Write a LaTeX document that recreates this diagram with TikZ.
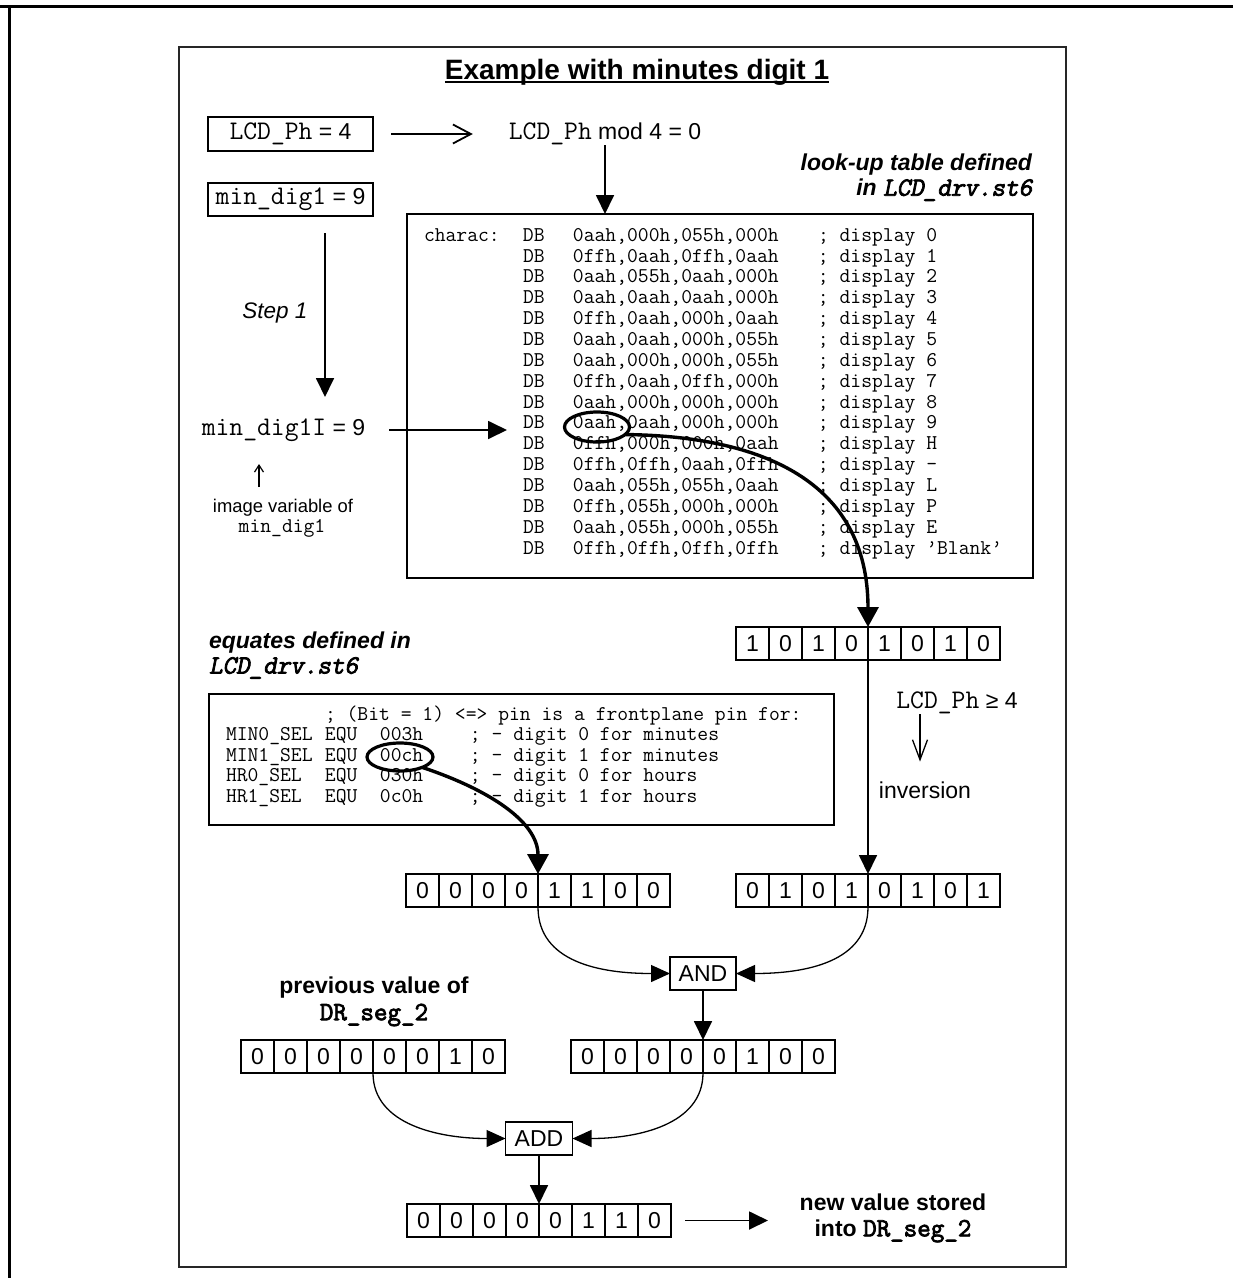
\documentclass[tikz,border=0pt]{standalone}
\usepackage{fontspec}
\setmainfont{Liberation Sans}
\setmonofont{Latin Modern Mono}[Scale=1.143]
\newfontfamily\monobf{Latin Modern Mono}[Scale=1.143, FakeBold=3]
\newfontfamily\monobfsl{Latin Modern Mono}[Scale=1.143, FakeBold=3, FakeSlant=0.2]
\usetikzlibrary{arrows.meta,shapes.geometric}
\newcommand{\fsz}[1]{\fontsize{#1}{#1}\selectfont}
\newcommand{\bigmono}{\fontsize{23.5}{23.5}\selectfont\ttfamily}
\newcommand{\bitrow}[4]{\foreach \b [count=\i] in {#4}{\node[bitcell] (#1-\i) at ({#2+(\i-0.5)*33},{#3+16.5}) {\b};}}
\begin{document}
\begin{tikzpicture}[x=1pt,y=-1pt,
  every node/.style={inner sep=0pt, outer sep=0pt},
  box/.style={draw, line width=1.5pt, minimum width=165pt, minimum height=34pt, font=\fsz{23}},
  bitcell/.style={draw, line width=1.2pt, minimum width=33pt, minimum height=33pt, font=\fsz{23}},
  opbox/.style={draw, line width=1.4pt, minimum width=66pt, minimum height=33pt, font=\fsz{23}},
  arr/.style={line width=1.8pt, -{Triangle[length=19pt,width=18pt]}},
  arrthin/.style={line width=1.3pt, -{Triangle[length=19pt,width=17pt]}},
  hlarr/.style={line width=3.4pt, -{Triangle[length=20pt,width=21pt]}},
  barb/.style={line width=1.8pt, -{Straight Barb[length=18pt,width=19pt]}},
  smallbarb/.style={line width=1.2pt, -{Straight Barb[length=7pt,width=9pt]}},
  invbarb/.style={line width=1.3pt, -{Straight Barb[length=20pt,width=15pt]}},
  circ/.style={draw, ellipse, line width=3.2pt},
  codeline/.style={anchor=west, font=\fsz{18.4}\ttfamily},
  lbl/.style={font=\fsz{23}\bfseries\itshape}
]
\useasboundingbox (0,0) rectangle (1233,1278);
% outer page frame
\draw[line width=3pt] (0,6) -- (1233,6);
\draw[line width=3pt] (9,6) -- (9,1278);
% inner frame
\draw[line width=2.2pt, black!85] (179,47) rectangle (1066,1267);

% title
\node[font=\fsz{28}\bfseries, anchor=base] (title) at (637,79) {Example with minutes digit 1};
\draw[line width=2pt] ([yshift=-3pt]title.base west) -- ([yshift=-3pt]title.base east);

% top left
\node[box] (lcd) at (290.5,134) {{\bigmono LCD\_Ph} = 4};
\node[box, minimum height=33pt] (md) at (290.5,199.5) {{\bigmono min\_dig1} = 9};
\node[font=\fsz{23}] (mod) at (605,134) {{\bigmono LCD\_Ph} mod 4 = 0};
\draw[barb, shorten <=18pt, shorten >=36pt] (lcd.east) -- (lcd.east -| mod.west);

\node[lbl, anchor=east] (lut1) at (1032,165) {look-up table defined};
\node[lbl, anchor=east] (lut2) at (1032,190) {in {\monobfsl\mdseries\upshape LCD\_drv.st6}};

% look-up table
\node[draw, line width=1.5pt, minimum width=626pt, minimum height=364pt] (tbl) at (720,396) {};
\draw[arr] (mod.south) -- (mod.south |- tbl.north);
\foreach \val/\dsp [count=\i] in {
  {0aah,000h,055h,000h}/0,
  {0ffh,0aah,0ffh,0aah}/1,
  {0aah,055h,0aah,000h}/2,
  {0aah,0aah,0aah,000h}/3,
  {0ffh,0aah,000h,0aah}/4,
  {0aah,0aah,000h,055h}/5,
  {0aah,000h,000h,055h}/6,
  {0ffh,0aah,0ffh,000h}/7,
  {0aah,000h,000h,000h}/8,
  {0aah,0aah,000h,000h}/9,
  {0ffh,000h,000h,0aah}/H,
  {0ffh,0ffh,0aah,0ffh}/-,
  {0aah,055h,055h,0aah}/L,
  {0ffh,055h,000h,000h}/P,
  {0aah,055h,000h,055h}/E,
  {0ffh,0ffh,0ffh,0ffh}/’Blank’}{
  \node[codeline] (row\i) at (424,{237+(\i-1)*20.87}) {\makebox[99pt][l]{\ifnum\i=1 charac:\fi}\makebox[50pt][l]{DB}\makebox[245pt][l]{\val}; display \dsp};
}

% step 1
\coordinate (s1a) at (325,233);
\coordinate (s1b) at (325,397);
\draw[arr] (s1a) -- (s1b);
\node[font=\fsz{22.5}\itshape] (step) at (275,313) {Step 1};
\node[font=\fsz{23}] (mdI) at (283.5,430) {{\bigmono min\_dig1I} = 9};
\coordinate (r10) at (507,0);
\draw[arr, shorten <=24pt] (mdI.east) -- (mdI.east -| r10);
\coordinate (ua) at (259,487);
\coordinate (ub) at (259,464);
\draw[smallbarb] (ua) -- (ub);
\node[font=\fsz{18.4}] (imgvar) at (283,508) {image variable of};
\node[font=\fsz{18.4}\ttfamily] (imgvar2) at (282,528) {min\_dig1};

% highlighted entry
\node[circ, minimum width=65pt, minimum height=30pt] (e1) at (597,427) {};

% bit rows
\bitrow{A}{736}{627}{1,0,1,0,1,0,1,0}
\draw[hlarr] (e1.-15) .. controls (760,436) and (868,480) .. (A-4.north east);

% equates
\node[lbl, anchor=west] (eq1) at (209,643) {equates defined in};
\node[lbl, anchor=west] (eq2) at (209,668) {\monobfsl\mdseries\upshape LCD\_drv.st6};
\node[draw, line width=1.5pt, minimum width=625pt, minimum height=131pt] (eqbox) at (521.5,759.5) {};
\node[codeline] (q1) at (226,716) {\makebox[99pt][l]{}; (Bit = 1) <=> pin is a frontplane pin for:};
\node[codeline] (q2) at (226,736.5) {\makebox[99pt][l]{MIN0\_SEL}\makebox[55pt][l]{EQU}\makebox[90pt][l]{003h}; - digit 0 for minutes};
\node[codeline] (q3) at (226,757) {\makebox[99pt][l]{MIN1\_SEL}\makebox[55pt][l]{EQU}\makebox[90pt][l]{00ch}; - digit 1 for minutes};
\node[codeline] (q4) at (226,777.5) {\makebox[99pt][l]{HR0\_SEL}\makebox[55pt][l]{EQU}\makebox[90pt][l]{030h}; - digit 0 for hours};
\node[codeline] (q5) at (226,798) {\makebox[99pt][l]{HR1\_SEL}\makebox[55pt][l]{EQU}\makebox[90pt][l]{0c0h}; - digit 1 for hours};
\node[circ, minimum width=66pt, minimum height=28pt] (e2) at (400,757) {};

\bitrow{B}{406}{874}{0,0,0,0,1,1,0,0}
\bitrow{C}{736}{874}{0,1,0,1,0,1,0,1}
\draw[hlarr] (e2.-25) .. controls (490,790) and (538,822) .. (B-4.north east);

% inversion
\draw[arr] (A-4.south east) -- (C-4.north east);
\node[font=\fsz{23}] (ge) at (957,703) {{\bigmono LCD\_Ph} ≥ 4};
\node[font=\fsz{23}] (inv) at (925,790) {inversion};
\draw[invbarb, shorten >=20pt] (ge.south -| 920,0) -- (inv.north -| 920,0);

% AND
\node[opbox] (and) at (703,973.5) {AND};
\draw[arrthin] (B-4.south east) .. controls (538,962) and (600,973.5) .. (and.west);
\draw[arrthin] (C-4.south east) .. controls (868,962) and (806,973.5) .. (and.east);

\node[font=\fsz{23}\bfseries] (prev1) at (374,988) {previous value of};
\node[font=\fsz{23}\monobf] (prev2) at (374,1015) {DR\_seg\_2};

\bitrow{D}{241}{1040}{0,0,0,0,0,0,1,0}
\bitrow{E}{571}{1040}{0,0,0,0,0,1,0,0}
\draw[arr] (and.south) -- (E-4.north east);

% ADD
\node[opbox, minimum width=67pt] (add) at (539,1138.5) {ADD};
\draw[arrthin] (D-4.south east) .. controls (373,1125) and (440,1138.5) .. (add.west);
\draw[arrthin] (E-4.south east) .. controls (703,1125) and (637,1138.5) .. (add.east);

\bitrow{F}{407}{1204}{0,0,0,0,0,1,1,0}
\draw[arr] (add.south) -- (F-4.north east);

\node[font=\fsz{23}\bfseries] (nv1) at (893,1202) {new value stored};
\node[font=\fsz{23}\bfseries] (nv2) at (893,1231) {into {\monobf\mdseries DR\_seg\_2}};
\coordinate (nvend) at (768,0);
\draw[arr, shorten <=14pt] (F-8.east) -- (F-8.east -| nvend);
\end{tikzpicture}
\end{document}
